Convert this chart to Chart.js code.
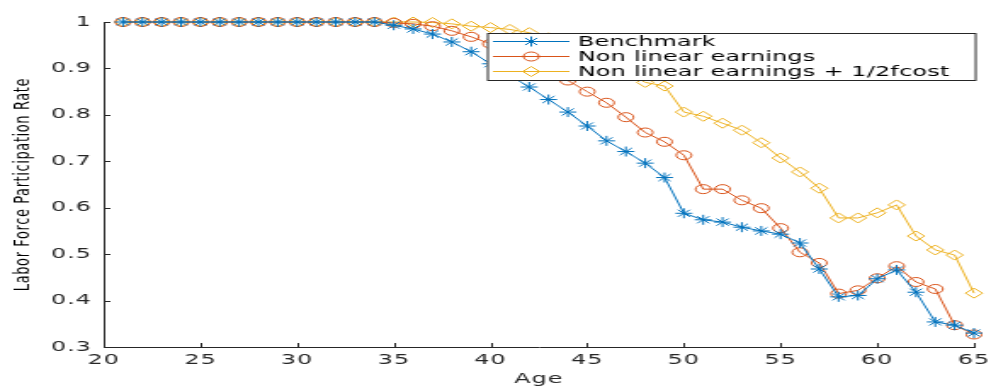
<!DOCTYPE html>
<html>
<head>
<meta charset="utf-8">
<script src="https://cdn.jsdelivr.net/npm/chart.js@4"></script>
<style>
  html, body { margin: 0; padding: 0; background: #fff; overflow: hidden; }
  #wrap { position: absolute; left: 0; top: 0; width: 583px; height: 388px;
          transform: scaleX(1.6998); transform-origin: 0 0; }
</style>
</head>
<body>
<div id="wrap"><canvas id="c"></canvas></div>
<script>
// ---- data ----
const ages = [21,22,23,24,25,26,27,28,29,30,31,32,33,34,35,36,37,38,39,40,41,42,43,44,45,46,47,48,49,50,51,52,53,54,55,56,57,58,59,60,61,62,63,64,65];
const benchmark = [1,1,1,1,1,1,1,1,1,1,1,1,1,1,
  0.993,0.985,0.974,0.957,0.936,0.910,0.885,0.860,0.833,0.806,0.776,0.744,0.721,0.696,0.665,
  0.588,0.574,0.569,0.558,0.550,0.543,0.524,0.468,0.408,0.411,0.447,0.466,0.418,0.354,0.347,0.330];
const nonLinear = [1,1,1,1,1,1,1,1,1,1,1,1,1,1,
  0.998,0.996,0.991,0.981,0.968,0.953,0.935,0.916,0.896,0.874,0.850,0.826,0.795,0.762,0.742,
  0.713,0.640,0.640,0.616,0.599,0.556,0.504,0.481,0.415,0.422,0.448,0.474,0.440,0.425,0.347,0.327];
const nonLinearHalf = [1,1,1,1,1,1,1,1,1,1,1,1,1,1,
  1,1,0.999,0.996,0.991,0.988,0.984,0.977,0.966,0.950,0.933,0.914,0.892,0.870,0.862,
  0.806,0.797,0.782,0.767,0.740,0.707,0.677,0.642,0.578,0.578,0.589,0.606,0.539,0.509,0.498,0.416];
const seriesNames = ['Benchmark', 'Non linear earnings', 'Non linear earnings + 1/2fcost'];
const xTicks = [20,25,30,35,40,45,50,55,60,65];
const yTicks = [0.3,0.4,0.5,0.6,0.7,0.8,0.9,1];
const yTickLabels = ['0.3','0.4','0.5','0.6','0.7','0.8','0.9','1'];
const xTitle = 'Age';
const yTitle = 'Labor Force Participation Rate';

// ---- styles ----
const colors = ['#0072BD', '#D95319', '#EDB120'];
const styles = ['star', 'circle', 'rectRot'];
const radii = [5, 4.5, 5];
const axisColor = '#262626';
const FONT = "'DejaVu Sans', sans-serif";

function pts(vals) { return ages.map((a, i) => ({ x: a, y: vals[i] })); }
const allSeries = [benchmark, nonLinear, nonLinearHalf];

const datasets = allSeries.map((vals, i) => ({
  label: seriesNames[i],
  data: pts(vals),
  borderColor: colors[i],
  backgroundColor: colors[i],
  borderWidth: 1,
  pointStyle: styles[i],
  pointRadius: radii[i],
  pointBorderWidth: 1,
  pointBorderColor: colors[i],
  pointBackgroundColor: 'rgba(0,0,0,0)',
  tension: 0,
  clip: false,
  showLine: true
}));

const spacing = {
  id: 'spacing',
  beforeDraw(chart) { chart.ctx.letterSpacing = '0.6px'; },
  beforeDatasetsDraw(chart) { chart.ctx.letterSpacing = '0px'; }
};

const innerTicks = {
  id: 'innerTicks',
  afterDatasetsDraw(chart) {
    const ctx = chart.ctx, xs = chart.scales.x, ys = chart.scales.y;
    const a = chart.chartArea;
    ctx.save();
    ctx.strokeStyle = axisColor;
    ctx.lineWidth = 1;
    ctx.beginPath();
    yTicks.forEach(v => {
      const y = Math.round(ys.getPixelForValue(v)) + 0.5;
      ctx.moveTo(a.left, y); ctx.lineTo(a.left + 4, y);
    });
    xTicks.forEach(v => {
      const x = Math.round(xs.getPixelForValue(v)) + 0.5;
      ctx.moveTo(x, a.bottom); ctx.lineTo(x, a.bottom - 4);
    });
    ctx.stroke();
    ctx.restore();
  }
};

const boxLegend = {
  id: 'boxLegend',
  afterDraw(chart) {
    const ctx = chart.ctx;
    const x0 = 286.5, x1 = 573.5, y0 = 33, y1 = 80;
    const rows = [41, 56, 71];
    ctx.save();
    ctx.letterSpacing = '0.15px';
    ctx.fillStyle = '#fff';
    ctx.fillRect(x0, y0, x1 - x0, y1 - y0);
    ctx.strokeStyle = axisColor;
    ctx.lineWidth = 1;
    ctx.strokeRect(x0 + 0.5, y0 + 0.5, x1 - x0, y1 - y0);
    ctx.font = '14px ' + FONT;
    ctx.textBaseline = 'middle';
    ctx.textAlign = 'left';
    seriesNames.forEach((name, i) => {
      const y = rows[i];
      ctx.strokeStyle = colors[i];
      ctx.lineWidth = 1;
      ctx.beginPath();
      ctx.moveTo(290, y + 0.5); ctx.lineTo(335, y + 0.5);
      ctx.stroke();
      ctx.fillStyle = 'rgba(0,0,0,0)';
      Chart.helpers.drawPoint(ctx, { pointStyle: styles[i], radius: radii[i], borderWidth: 1, rotation: 0 }, 312.5, y + 0.5);
      ctx.fillStyle = '#000';
      ctx.fillText(name, 340, y + 1);
    });
    ctx.restore();
  }
};

new Chart(document.getElementById('c'), {
  type: 'line',
  data: { datasets },
  options: {
    responsive: true,
    maintainAspectRatio: false,
    animation: false,
    layout: { padding: { left: 0, right: 10, top: 22, bottom: 0 } },
    plugins: { legend: { display: false }, tooltip: { enabled: false } },
    scales: {
      x: {
        type: 'linear', min: 20, max: 65,
        afterBuildTicks(s) { s.ticks = xTicks.map(v => ({ value: v })); },
        afterFit(s) { s.height = 41; s.paddingLeft = 0; s.paddingRight = 0; },
        grid: { display: false, drawTicks: false },
        border: { display: true, color: axisColor, width: 1 },
        ticks: { color: axisColor, font: { family: FONT, size: 14 }, padding: 5, maxRotation: 0,
                 callback: v => String(v) },
        title: { display: true, text: xTitle, color: axisColor, font: { family: FONT, size: 14 },
                 padding: { top: 0, bottom: 0 } }
      },
      y: {
        type: 'linear', min: 0.3, max: 1,
        afterBuildTicks(s) { s.ticks = yTicks.map(v => ({ value: v })); },
        afterFit(s) { s.width = 61; s.paddingTop = 0; s.paddingBottom = 0; },
        grid: { display: false, drawTicks: false },
        border: { display: true, color: axisColor, width: 1 },
        ticks: { color: axisColor, font: { family: FONT, size: 14 }, padding: 7,
                 callback: (v) => { const k = yTicks.findIndex(t => Math.abs(t - v) < 1e-9); return k >= 0 ? yTickLabels[k] : ''; } },
        title: { display: true, text: yTitle, color: '#000', font: { family: FONT, size: 13 },
                 padding: { top: 6, bottom: 0 } }
      }
    }
  },
  plugins: [spacing, innerTicks, boxLegend]
});
</script>
</body>
</html>
